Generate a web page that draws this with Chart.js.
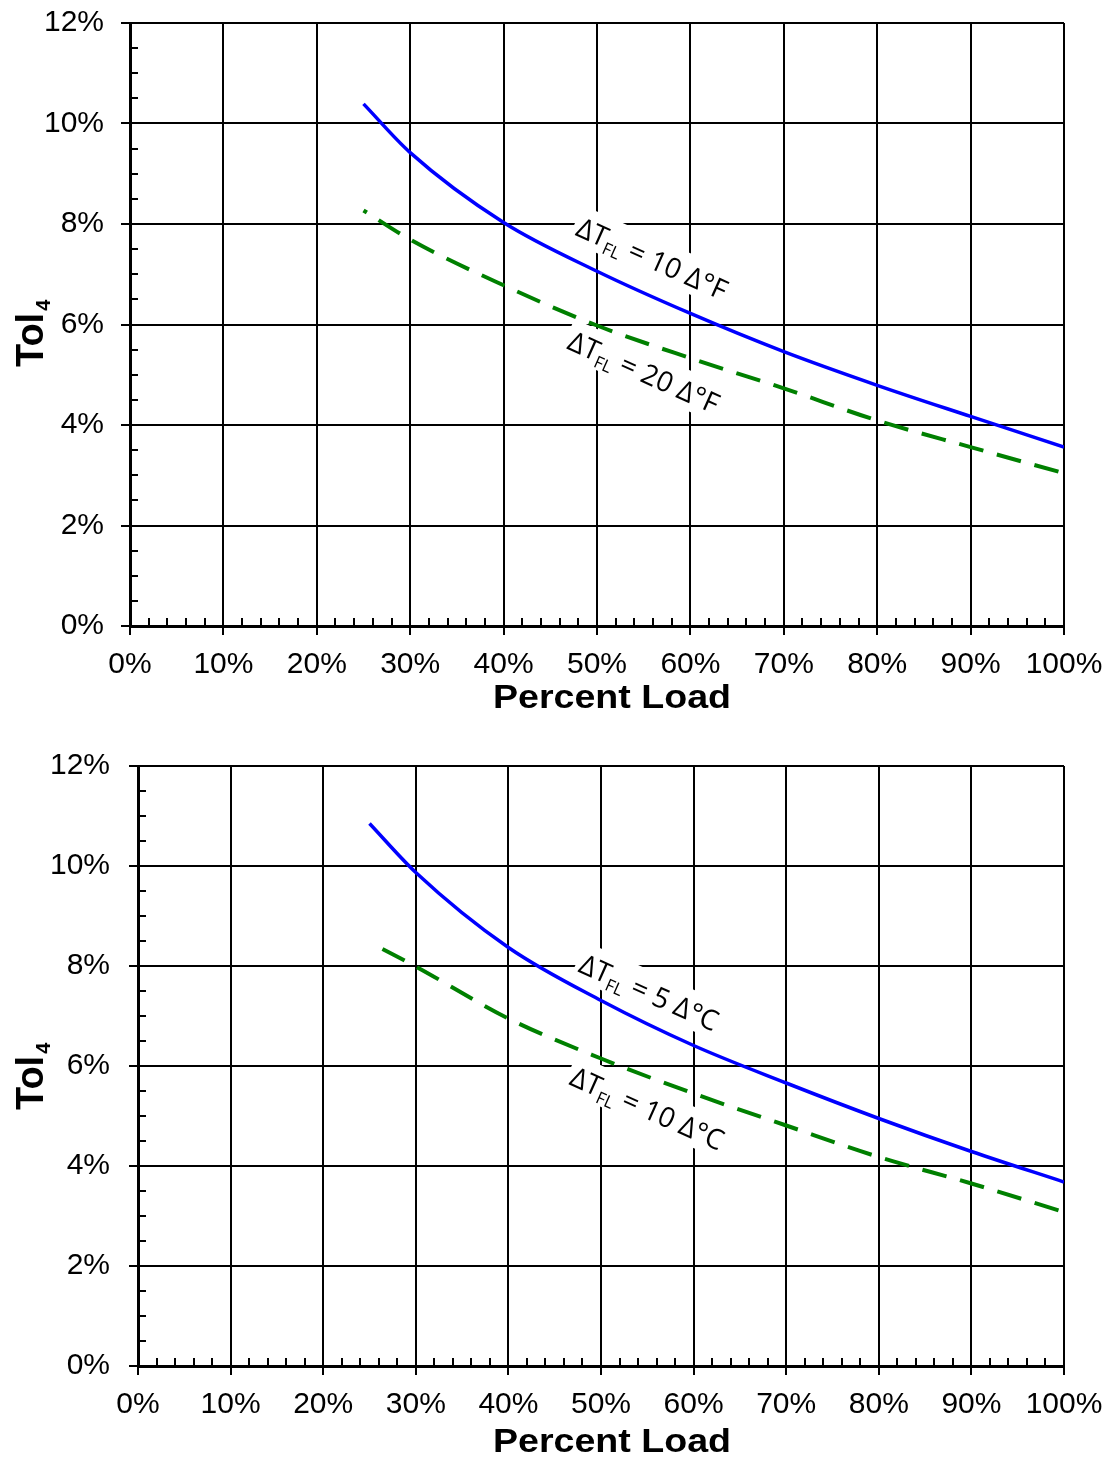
<!DOCTYPE html>
<html lang="en">
<head>
<meta charset="UTF-8">
<title>Tol4 vs Percent Load</title>
<style>
  body { margin: 0; background: #fff; }
  #wrap { position: relative; width: 1120px; height: 1457px; background: #fff; overflow: hidden; }
  canvas { position: absolute; left: 0; }
  #topChart { top: -12px; }
  #botChart { top: 729px; }
</style>
</head>
<body>
<div id="wrap">
  <canvas id="topChart" width="1120" height="742"></canvas>
  <canvas id="botChart" width="1120" height="728"></canvas>
</div>
<script src="https://cdn.jsdelivr.net/npm/chart.js"></script>
<script>
// ---- data (Percent Load in %, Tol4 in %) ----
const topLoad = [25, 30, 40, 50, 60, 70, 80, 90, 100];
const topBlue = [10.39, 9.42, 8.03, 7.06, 6.22, 5.46, 4.79, 4.17, 3.56];   // dT_FL = 10 dF
const topGreen = [8.27, 7.69, 6.78, 5.98, 5.33, 4.73, 4.09, 3.56, 3.04];   // dT_FL = 20 dF

const botBlueLoad = [25, 30, 40, 50, 60, 70, 80, 90, 100];
const botBlue = [10.85, 9.87, 8.37, 7.31, 6.41, 5.66, 4.95, 4.29, 3.68];   // dT_FL = 5 dC
const botGreenLoad = [26.4, 30, 40, 50, 60, 70, 80, 90, 100];
const botGreen = [8.34, 7.99, 6.95, 6.15, 5.45, 4.81, 4.18, 3.65, 3.08];   // dT_FL = 10 dC

const FONT = '"Liberation Sans", Arial, sans-serif';
Chart.defaults.font.family = FONT;
Chart.defaults.color = '#000';

function pts(xs, ys) {
  return xs.map((x, i) => ({ x: x, y: ys[i] }));
}

// small inside ticks between the major ones
const minorTicks = {
  id: 'minorTicks',
  beforeDatasetsDraw(chart) {
    const { ctx, scales: { x, y } } = chart;
    ctx.save();
    ctx.strokeStyle = '#000';
    ctx.lineWidth = 2;
    ctx.beginPath();
    for (let v = 0.5; v < 12; v += 0.5) {
      if (v % 2 === 0) continue;
      const py = Math.round(y.getPixelForValue(v));
      ctx.moveTo(x.left, py);
      ctx.lineTo(x.left + 8, py);
    }
    for (let v = 2; v < 100; v += 2) {
      if (v % 10 === 0) continue;
      const px = Math.round(x.getPixelForValue(v));
      ctx.moveTo(px, y.bottom);
      ctx.lineTo(px, y.bottom - 8);
    }
    ctx.stroke();
    ctx.restore();
  }
};

// rotated curve labels with white boxes behind them
const curveLabels = {
  id: 'curveLabels',
  beforeDatasetsDraw(chart, args, opts) {
    const { ctx, scales: { x, y } } = chart;
    const size = opts.size;
    opts.items.forEach(l => {
      const parts = [
        { t: '\u0394T', s: 1, dy: 0 },
        { t: 'FL', s: 0.62, dy: 0.2 },
        { t: ' = ' + l.text, s: 1, dy: 0 }
      ];
      ctx.save();
      ctx.translate(x.getPixelForValue(l.x), y.getPixelForValue(l.y));
      ctx.rotate(opts.angle * Math.PI / 180);
      let total = 0;
      parts.forEach(p => {
        ctx.font = Math.round(size * p.s) + 'px "Open Sans", "DejaVu Sans", sans-serif';
        p.w = ctx.measureText(p.t).width;
        total += p.w;
      });
      ctx.fillStyle = '#fff';
      ctx.fillRect(-total / 2 - 4, -size * 0.45 - 8, total + 8, size + 10);
      ctx.fillStyle = '#000';
      ctx.textBaseline = 'alphabetic';
      let cx = -total / 2;
      parts.forEach(p => {
        ctx.font = Math.round(size * p.s) + 'px "Open Sans", "DejaVu Sans", sans-serif';
        ctx.fillText(p.t, cx, size * 0.35 + p.dy * size);
        cx += p.w;
      });
      ctx.restore();
    });
  }
};

// axis titles (Tol with subscript 4, Percent Load)
const axisTitles = {
  id: 'axisTitles',
  afterDraw(chart, args, opts) {
    const ctx = chart.ctx;
    ctx.save();
    ctx.fillStyle = '#000';
    ctx.textBaseline = 'alphabetic';
    ctx.textAlign = 'left';
    ctx.font = 'bold 33px ' + FONT;
    const w = ctx.measureText('Percent Load').width;
    ctx.translate(opts.xLeft, opts.xBase);
    ctx.scale(238 / w, 1);
    ctx.fillText('Percent Load', 0, 0);
    ctx.restore();

    ctx.save();
    ctx.fillStyle = '#000';
    ctx.translate(opts.yBase, opts.yStart);
    ctx.rotate(-Math.PI / 2);
    ctx.font = 'bold 38px ' + FONT;
    ctx.fillText('Tol', 0, 0);
    const tw = ctx.measureText('Tol').width;
    ctx.font = 'bold 20px ' + FONT;
    ctx.fillText('4', tw + 2, 7);
    ctx.restore();
  }
};

function makeChart(id, sets, o) {
  return new Chart(document.getElementById(id), {
    type: 'line',
    data: {
      datasets: [
        {
          data: pts(sets.blueX, sets.blueY),
          borderColor: '#0000ff',
          borderWidth: 3.5,
          pointRadius: 0,
          cubicInterpolationMode: 'monotone',
          fill: false
        },
        {
          data: pts(sets.greenX, sets.greenY),
          borderColor: '#008000',
          borderWidth: 4,
          borderDash: [25, 14],
          borderDashOffset: o.dashOffset,
          pointRadius: 0,
          cubicInterpolationMode: 'monotone',
          fill: false
        }
      ]
    },
    options: {
      responsive: false,
      animation: false,
      devicePixelRatio: 1,
      layout: { padding: { left: 0, right: 56, top: 0, bottom: 0 } },
      plugins: {
        legend: { display: false },
        tooltip: { enabled: false },
        curveLabels: { size: 28, angle: 24, items: o.labels },
        axisTitles: o.titles
      },
      scales: {
        x: {
          type: 'linear',
          min: 0,
          max: 100,
          afterFit(s) { s.height = o.xHeight; },
          ticks: {
            stepSize: 10,
            padding: 12,
            font: { size: 30 },
            callback: v => v + '%'
          },
          grid: { color: '#000', lineWidth: 2, tickLength: 9 },
          border: { display: true, color: '#000', width: 3 }
        },
        y: {
          min: 0,
          max: 12,
          afterFit(s) { s.width = o.yWidth; },
          ticks: {
            stepSize: 2,
            padding: o.yPad,
            font: { size: 30 },
            callback: v => v + '%'
          },
          grid: { color: '#000', lineWidth: 2, tickLength: 9 },
          border: { display: true, color: '#000', width: 3 }
        }
      }
    },
    plugins: [minorTicks, curveLabels, axisTitles]
  });
}

makeChart('topChart',
  { blueX: topLoad, blueY: topBlue, greenX: topLoad, greenY: topGreen },
  {
    xHeight: 104, yWidth: 130, yPad: 17, dashOffset: 21,
    labels: [
      { x: 55.9, y: 7.31, text: '10 \u0394\u00b0F' },
      { x: 55.0, y: 5.05, text: '20 \u0394\u00b0F' }
    ],
    titles: { xLeft: 493, xBase: 720, yBase: 43, yStart: 379 }
  });

makeChart('botChart',
  { blueX: botBlueLoad, blueY: botBlue, greenX: botGreenLoad, greenY: botGreen },
  {
    xHeight: 91, yWidth: 138, yPad: 19, dashOffset: 0,
    labels: [
      { x: 55.2, y: 7.47, text: '5 \u0394\u00b0C' },
      { x: 55.0, y: 5.15, text: '10 \u0394\u00b0C' }
    ],
    titles: { xLeft: 493, xBase: 723, yBase: 43, yStart: 381 }
  });
</script>
</body>
</html>
